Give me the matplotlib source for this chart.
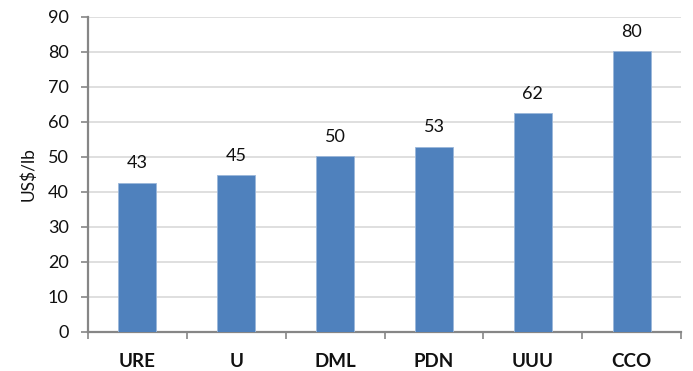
import matplotlib
matplotlib.use("Agg")
import matplotlib.pyplot as plt

# Price by company
categories = ["URE", "U", "DML", "PDN", "UUU", "CCO"]
values = [42.6, 44.7, 50.2, 52.9, 62.4, 80.1]
y_ticks = [0, 10, 20, 30, 40, 50, 60, 70, 80, 90]

plt.rcParams["font.family"] = ["Lato", "DejaVu Sans"]

fig = plt.figure(figsize=(6.93, 3.71), dpi=100)
ax = fig.add_axes([0.127, 0.106, 0.856, 0.849])

x = range(len(categories))
bars = ax.bar(x, values, width=0.385, color="#4F81BD",
              edgecolor="#9BB7DA", linewidth=0.6, zorder=3)

for xi, v in zip(x, values):
    ax.annotate(f"{v:.0f}", (xi, v), xytext=(0, 8), textcoords="offset points",
                ha="center", va="bottom", fontsize=13, color="#111111")

ax.set_xlim(-0.5, len(categories) - 0.5)
ax.set_ylim(0, 90)
ax.set_yticks(y_ticks)
ax.tick_params(axis="y", length=5, width=1.2, color="#868686", pad=9,
               labelsize=13, labelcolor="#111111")

# category ticks sit on the boundaries between groups
ax.set_xticks([i + 0.5 for i in range(-1, len(categories))], minor=False)
ax.set_xticklabels([])
ax.set_xticks(list(x), minor=True)
ax.set_xticklabels(categories, minor=True, fontweight="bold", fontsize=13.5)
ax.tick_params(axis="x", which="major", length=5, width=1.2, color="#868686")
ax.tick_params(axis="x", which="minor", length=0, pad=15, labelcolor="#111111")

ax.grid(axis="y", color="#D9D9D9", linewidth=1.2, zorder=0)
for side in ("top", "right"):
    ax.spines[side].set_visible(False)
for side in ("left", "bottom"):
    ax.spines[side].set_color("#868686")
    ax.spines[side].set_linewidth(1.6)

ax.set_ylabel("US$/lb", fontsize=12.5, color="#111111", labelpad=8)

fig.savefig("out.png", dpi=100)
